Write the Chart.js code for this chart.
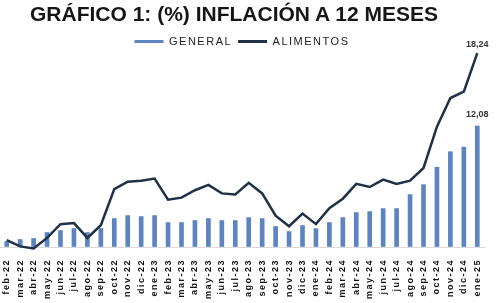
<!DOCTYPE html>
<html>
<head>
<meta charset="utf-8">
<script src="https://cdn.jsdelivr.net/npm/chart.js@4/dist/chart.umd.min.js"></script>
<style>
  body { margin: 0; background: #fff; }
  #wrap { position: relative; width: 500px; height: 303px; }
  #title {
    position: absolute; left: 30px; top: 2px; white-space: nowrap;
    font: bold 21px/24px "Liberation Sans", Arial, sans-serif; color: #161616;
  }
  canvas { position: absolute; left: 0; top: 0; }
</style>
</head>
<body>
<div id="wrap">
  <canvas id="chart" width="500" height="303"></canvas>
  <div id="title">GRÁFICO 1: (%) INFLACIÓN A 12 MESES</div>
</div>
<script>
// Monthly labels
const months = ['feb-22','mar-22','abr-22','may-22','jun-22','jul-22','ago-22','sep-22','oct-22','nov-22','dic-22','ene-23',
  'feb-23','mar-23','abr-23','may-23','jun-23','jul-23','ago-23','sep-23','oct-23','nov-23','dic-23','ene-24',
  'feb-24','mar-24','abr-24','may-24','jun-24','jul-24','ago-24','sep-24','oct-24','nov-24','dic-24','ene-25'];

// 12-month inflation, %
const general = [0.5, 0.7, 0.8, 1.4, 1.6, 1.8, 1.4, 1.8, 2.8, 3.1, 3.0, 3.1,
  2.4, 2.4, 2.6, 2.8, 2.6, 2.6, 2.9, 2.8, 2.0, 1.5, 2.1, 1.8,
  2.4, 2.9, 3.4, 3.5, 3.8, 3.8, 5.2, 6.2, 7.95, 9.5, 9.97, 12.08];
const alimentos = [0.6, 0.0, -0.2, 0.8, 2.1, 2.2, 0.8, 2.0, 5.4, 6.1, 6.2, 6.4,
  4.4, 4.6, 5.3, 5.8, 5.0, 4.9, 6.0, 5.0, 2.9, 1.9, 3.1, 2.1,
  3.6, 4.5, 5.9, 5.6, 6.3, 5.9, 6.2, 7.4, 11.3, 14.0, 14.6, 18.24];

const barColor = '#5b84c0';
const lineColor = '#1f3047';
const fontFamily = '"Liberation Sans", Arial, sans-serif';

// letter spacing for legend/ticks + value labels on the last point of each series
const lastValueLabels = {
  id: 'lastValueLabels',
  beforeLayout(chart) { chart.ctx.letterSpacing = '1.5px'; },
  beforeDraw(chart) { chart.ctx.letterSpacing = '1.5px'; },
  afterDatasetsDraw(chart) {
    const ctx = chart.ctx;
    ctx.save();
    ctx.letterSpacing = '0px';
    ctx.font = 'bold 9px ' + fontFamily;
    ctx.fillStyle = '#333';
    ctx.textAlign = 'center';
    ctx.textBaseline = 'alphabetic';
    chart.data.datasets.forEach((ds, i) => {
      const meta = chart.getDatasetMeta(i);
      const last = meta.data[meta.data.length - 1];
      const v = ds.data[ds.data.length - 1];
      const gap = ds.type === 'bar' ? 9 : 6;
      ctx.fillText(v.toFixed(2).replace('.', ','), last.x, last.y - gap);
    });
    ctx.restore();
    ctx.letterSpacing = '2.5px'; // x ticks are drawn after this (z: 1)
  },
  afterDraw(chart) { chart.ctx.letterSpacing = '0px'; }
};

const ctx = document.getElementById('chart').getContext('2d');
const chart = new Chart(ctx, {
  data: {
    labels: months,
    datasets: [
      {
        type: 'line',
        label: 'ALIMENTOS',
        data: alimentos,
        yAxisID: 'y1',
        borderColor: lineColor,
        backgroundColor: lineColor,
        borderWidth: 2.5,
        pointRadius: 0,
        tension: 0,
        clip: false,
        order: 0
      },
      {
        type: 'bar',
        label: 'GENERAL',
        data: general,
        yAxisID: 'y',
        backgroundColor: barColor,
        barThickness: 4,
        order: 1
      }
    ]
  },
  options: {
    responsive: false,
    animation: false,
    layout: { padding: { top: 30, right: 16, bottom: -5, left: 0 } },
    plugins: {
      tooltip: { enabled: false },
      legend: {
        position: 'top',
        labels: {
          padding: 6,
          boxWidth: 29,
          boxHeight: 3,
          color: '#222',
          font: { family: fontFamily, size: 11 },
          sort: (a, b) => b.datasetIndex - a.datasetIndex,
          generateLabels: (chart) => chart.data.datasets.map((ds, i) => ({
            text: ds.label,
            fillStyle: ds.type === 'bar' ? barColor : lineColor,
            strokeStyle: ds.type === 'bar' ? barColor : lineColor,
            lineWidth: 0,
            fontColor: '#222',
            datasetIndex: i
          }))
        }
      }
    },
    scales: {
      x: {
        z: 1,
        grid: { display: false },
        border: { color: '#d9d9d9' },
        ticks: {
          autoSkip: false,
          minRotation: 90,
          maxRotation: 90,
          padding: 3,
          color: '#111',
          font: { family: fontFamily, size: 9, weight: 'bold' }
        },
        beforeCalculateLabelRotation: (axis) => { axis.ctx.letterSpacing = '2.5px'; },
        afterFit: (axis) => { axis.ctx.letterSpacing = '1.5px'; }
      },
      y: { display: false, min: -0.15, max: 19.0 },
      y1: { display: false, min: -0.15, max: 17.87 }
    }
  },
  plugins: [lastValueLabels]
});
</script>
</body>
</html>
